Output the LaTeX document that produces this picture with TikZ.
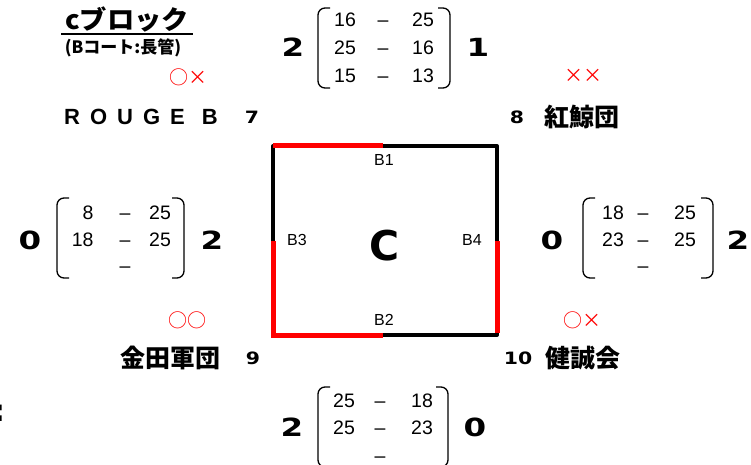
\documentclass[tikz,border=0pt]{standalone}
\usepackage{fontspec}
\setmainfont{Liberation Sans}
\newfontfamily\jpfont{Noto Sans CJK JP}
\newfontfamily\heavyfont{DejaVu Sans}
\newcommand{\lparen}[3]{\draw [paren] (#1+12,#2) -- (#1,#2) -- (#1,#3) -- (#1+12,#3);}
\newcommand{\rparen}[3]{\draw [paren] (#1-12,#2) -- (#1,#2) -- (#1,#3) -- (#1-12,#3);}

\tikzset{
  score/.style={font=\heavyfont\bfseries\fontsize{25}{25}\selectfont, xscale=1.3},
  seed/.style={font=\heavyfont\bfseries\fontsize{17}{17}\selectfont, xscale=1.2},
  team/.style={font=\jpfont\bfseries\fontsize{25}{25}\selectfont},
  cell/.style={font=\fontsize{19.5}{20}\selectfont, anchor=base, yshift=-7pt},
  result/.style={text=red, font=\jpfont\fontsize{19}{19}\selectfont},
  court/.style={font=\fontsize{16}{16}\selectfont},
  paren/.style={line width=1.3pt, rounded corners=7pt},
  side/.style={line width=4pt, line join=round},
  redside/.style={line width=5pt, red},
}

\begin{document}
\begin{tikzpicture}[x=1pt, y=-1pt]
    \useasboundingbox (0,0) rectangle (751,465);

    % title
    \node [font=\jpfont\bfseries\fontsize{26}{26}\selectfont, xscale=1.05] (title) at (127,19) {cブロック};
    \draw [line width=2pt] (61,34) -- (193,34);
    \node [font=\jpfont\bfseries\fontsize{17}{17}\selectfont] (sub) at (123,48) {(Bコート:長管)};
    \node [font=\heavyfont\bfseries\fontsize{30}{30}\selectfont] (cut) at (-1,413) {:};

    % teams
    \node [font=\bfseries\fontsize{22}{22}\selectfont] (rouge) at (141,117)
      {R\hspace{10pt}O\hspace{10pt}U\hspace{10pt}G\hspace{10pt}E\hspace{17pt}B};
    \node [seed] (n7) at (252,117) {7};
    \node [seed] (n8) at (517,117) {8};
    \node [team] (kogei) at (582,117) {紅鯨団};
    \node [team] (kaneda) at (170,358) {金田軍団};
    \node [seed] (n9) at (253,358) {9};
    \node [seed] (n10) at (518,358) {10};
    \node [team] (kensei) at (583,358) {健誠会};

    % results
    \node [result] (resrouge) at (188,77) {○×};
    \node [result] (reskogei) at (583,76) {××};
    \node [result] (reskaneda) at (187,320) {○○};
    \node [result] (reskensei) at (582,320) {○×};

    % court
    \coordinate (nw) at (273,146);
    \coordinate (ne) at (497,146);
    \coordinate (sw) at (273,335);
    \coordinate (se) at (497,335);
    \coordinate (tm) at (383,146);
    \coordinate (bm) at (383,335);
    \coordinate (lm) at (273,241);
    \coordinate (rm) at (497,241);
    \draw [side] (nw) -- (ne) -- (se) -- (sw) -- cycle;
    \draw [redside] (nw) -- (tm);
    \draw [redside] (lm) -- (sw) -- (bm);
    \draw [redside] (rm) -- (497,333);
    \node [court] (b1) at (384,160) {B1};
    \node [court] (b2) at (384,320) {B2};
    \node [court] (b3) at (297,240) {B3};
    \node [court] (b4) at (472,240) {B4};
    \node [font=\heavyfont\bfseries\fontsize{41}{41}\selectfont] (c) at (385,246) {C};

    % top match
    \node [score] (topl) at (293,47) {2};
    \node [score] (topr) at (478,47) {1};
    \lparen{318}{8}{88}
    \rparen{450}{8}{88}
    \node [cell] (t1a) at (345,20) {16};
    \node [cell] (t1d) at (383,20) {–};
    \node [cell] (t1b) at (423,20) {25};
    \node [cell] (t2a) at (345,48) {25};
    \node [cell] (t2d) at (383,48) {–};
    \node [cell] (t2b) at (423,48) {16};
    \node [cell] (t3a) at (345,76) {15};
    \node [cell] (t3d) at (383,76) {–};
    \node [cell] (t3b) at (423,76) {13};

    % left match
    \node [score] (leftl) at (30,240) {0};
    \node [score] (leftr) at (212,240) {2};
    \lparen{57}{198}{278}
    \rparen{184}{198}{278}
    \node [cell, anchor=base east] (l1a) at (97,212) {8};
    \node [cell] (l1d) at (125,212) {–};
    \node [cell] (l1b) at (160,212) {25};
    \node [cell, anchor=base east] (l2a) at (97,239) {18};
    \node [cell] (l2d) at (125,239) {–};
    \node [cell] (l2b) at (160,239) {25};
    \node [cell] (l3d) at (125,265) {–};

    % right match
    \node [score] (rightl) at (552,240) {0};
    \node [score] (rightr) at (738,240) {2};
    \lparen{583}{198}{278}
    \rparen{713}{198}{278}
    \node [cell] (r1a) at (613,212) {18};
    \node [cell] (r1d) at (643,212) {–};
    \node [cell] (r1b) at (685,212) {25};
    \node [cell] (r2a) at (613,239) {23};
    \node [cell] (r2d) at (643,239) {–};
    \node [cell] (r2b) at (685,239) {25};
    \node [cell] (r3d) at (643,265) {–};

    % bottom match
    \node [score] (botl) at (292,427) {2};
    \node [score] (botr) at (475,427) {0};
    \lparen{318}{387}{467}
    \rparen{448}{387}{467}
    \node [cell] (d1a) at (344,400) {25};
    \node [cell] (d1d) at (380,400) {–};
    \node [cell] (d1b) at (422,400) {18};
    \node [cell] (d2a) at (344,427) {25};
    \node [cell] (d2d) at (380,427) {–};
    \node [cell] (d2b) at (422,427) {23};
    \node [cell] (d3d) at (380,455) {–};
\end{tikzpicture}
\end{document}
